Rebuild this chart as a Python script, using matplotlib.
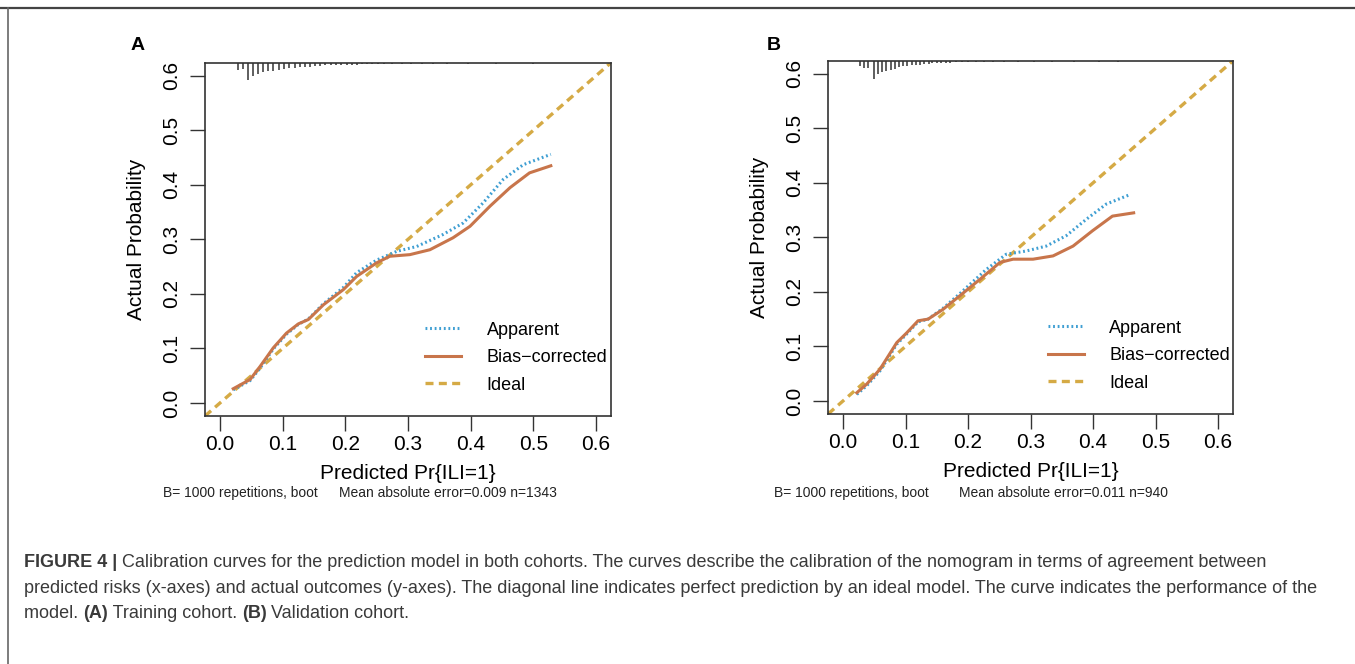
import matplotlib
matplotlib.use("Agg")
import matplotlib.pyplot as plt
from matplotlib.lines import Line2D

plt.rcParams['font.family'] = ['Liberation Sans', 'DejaVu Sans']

# panel A: training cohort
a_x = [0.021, 0.048, 0.064, 0.085, 0.106, 0.125, 0.141, 0.165, 0.197, 0.218, 0.250, 0.271,
       0.303, 0.335, 0.372, 0.399, 0.431, 0.463, 0.494, 0.528]
a_bias = [0.026, 0.043, 0.067, 0.101, 0.128, 0.145, 0.153, 0.180, 0.208, 0.232, 0.257, 0.269,
          0.272, 0.281, 0.303, 0.324, 0.361, 0.395, 0.422, 0.435]
a_app_x = [0.021, 0.048, 0.064, 0.085, 0.106, 0.125, 0.141, 0.165, 0.197, 0.218, 0.250, 0.282,
           0.314, 0.356, 0.388, 0.420, 0.452, 0.484, 0.528]
a_app = [0.024, 0.041, 0.064, 0.099, 0.126, 0.144, 0.154, 0.182, 0.212, 0.239, 0.262, 0.278,
         0.287, 0.309, 0.330, 0.367, 0.410, 0.437, 0.456]
a_rug_x = [0.028, 0.036, 0.045, 0.053, 0.061, 0.069, 0.077, 0.085, 0.094, 0.102, 0.110, 0.119,
           0.127, 0.135, 0.143, 0.152, 0.160, 0.168, 0.177, 0.185, 0.193, 0.202, 0.210, 0.218,
           0.226, 0.235, 0.243, 0.252, 0.262, 0.275, 0.290, 0.305, 0.322, 0.340, 0.362, 0.395,
           0.440, 0.500]
a_rug_h = [0.013, 0.012, 0.031, 0.025, 0.021, 0.017, 0.016, 0.015, 0.014, 0.011, 0.010, 0.009,
           0.008, 0.007, 0.007, 0.006, 0.006, 0.005, 0.005, 0.005, 0.004, 0.004, 0.004, 0.004,
           0.003, 0.003, 0.003, 0.003, 0.003, 0.002, 0.002, 0.002, 0.002, 0.002, 0.003, 0.002,
           0.002, 0.002]

# panel B: validation cohort
b_x = [0.022, 0.038, 0.059, 0.086, 0.102, 0.120, 0.136, 0.160, 0.187, 0.219, 0.251, 0.272,
       0.304, 0.336, 0.368, 0.399, 0.431, 0.465]
b_bias = [0.015, 0.031, 0.058, 0.107, 0.125, 0.147, 0.150, 0.168, 0.193, 0.223, 0.254, 0.260,
          0.260, 0.266, 0.284, 0.312, 0.339, 0.345]
b_app_x = [0.022, 0.038, 0.059, 0.086, 0.102, 0.120, 0.136, 0.160, 0.187, 0.229, 0.261, 0.293,
           0.325, 0.357, 0.389, 0.421, 0.458]
b_app = [0.012, 0.028, 0.055, 0.104, 0.123, 0.145, 0.150, 0.170, 0.197, 0.241, 0.269, 0.275,
         0.284, 0.303, 0.333, 0.361, 0.378]
b_rug_x = [0.027, 0.034, 0.040, 0.049, 0.056, 0.063, 0.069, 0.076, 0.083, 0.089, 0.096, 0.103,
           0.110, 0.116, 0.123, 0.130, 0.137, 0.143, 0.150, 0.157, 0.164, 0.171, 0.180, 0.190,
           0.200, 0.212, 0.225, 0.240, 0.258, 0.280, 0.305, 0.335, 0.370, 0.410, 0.440]
b_rug_h = [0.010, 0.013, 0.014, 0.033, 0.024, 0.020, 0.018, 0.017, 0.015, 0.012, 0.010, 0.009,
           0.008, 0.007, 0.007, 0.006, 0.006, 0.005, 0.005, 0.004, 0.004, 0.004, 0.003, 0.003,
           0.003, 0.003, 0.003, 0.002, 0.002, 0.002, 0.002, 0.002, 0.002, 0.002, 0.002]

ticks = [0.0, 0.1, 0.2, 0.3, 0.4, 0.5, 0.6]
tick_labels = ["0.0", "0.1", "0.2", "0.3", "0.4", "0.5", "0.6"]
legend_labels = ["Apparent", "Bias\u2212corrected", "Ideal"]

c_app = "#3f9fd3"
c_bias = "#c8754b"
c_ideal = "#d5aa45"

fig = plt.figure(figsize=(13.55, 6.64), dpi=100)

panels = [
    dict(rect=[0.1513, 0.3735, 0.2996, 0.532], x=a_x, bias=a_bias, app_x=a_app_x, app=a_app,
         rug_x=a_rug_x, rug_h=a_rug_h, letter="A", letter_x=0.096,
         sub1="B= 1000 repetitions, boot", sub2="Mean absolute error=0.009 n=1343",
         sub1_x=0.120, sub2_x=0.250),
    dict(rect=[0.6111, 0.3765, 0.2989, 0.532], x=b_x, bias=b_bias, app_x=b_app_x, app=b_app,
         rug_x=b_rug_x, rug_h=b_rug_h, letter="B", letter_x=0.566,
         sub1="B= 1000 repetitions, boot", sub2="Mean absolute error=0.011 n=940",
         sub1_x=0.571, sub2_x=0.708),
]

for p in panels:
    ax = fig.add_axes(p["rect"])
    ax.set_xlim(-0.024, 0.624)
    ax.set_ylim(-0.024, 0.624)
    ax.axline((0, 0), slope=1, color=c_ideal, lw=2.4, ls=(0, (2.4, 1.6)))
    ax.plot(p["app_x"], p["app"], color=c_app, lw=2.2, ls=(0, (0.6, 0.9)))
    ax.plot(p["x"], p["bias"], color=c_bias, lw=2.2)
    # frequency rug hanging from the top border
    top = ax.get_ylim()[1]
    ax.vlines(p["rug_x"], [top - h for h in p["rug_h"]], top, color="#333333", lw=1.1)

    ax.set_xticks(ticks)
    ax.set_xticklabels(tick_labels)
    ax.set_yticks(ticks)
    ax.set_yticklabels(tick_labels, rotation=90, va="center")
    ax.tick_params(axis="both", direction="out", length=11, width=1.0, labelsize=15,
                   color="#333333", pad=6)
    ax.tick_params(axis="x", pad=3)
    for s in ax.spines.values():
        s.set_color("#333333")
        s.set_linewidth(1.2)
    ax.set_xlabel("Predicted Pr{ILI=1}", fontsize=15, labelpad=7)
    ax.set_ylabel("Actual Probability", fontsize=15, labelpad=12)

    handles = [Line2D([], [], color=c_app, lw=2.2, ls=(0, (0.6, 0.9))),
               Line2D([], [], color=c_bias, lw=2.2),
               Line2D([], [], color=c_ideal, lw=2.4, ls=(0, (2.4, 1.6)))]
    ax.legend(handles, legend_labels, loc="center left", bbox_to_anchor=(0.52, 0.165),
              frameon=False, fontsize=13, handlelength=2.0, handletextpad=1.4,
              labelspacing=0.58, borderpad=0)

    fig.text(p["letter_x"], 0.932, p["letter"], fontsize=14, fontweight="bold", va="center")
    fig.text(p["sub1_x"], 0.257, p["sub1"], fontsize=10, va="center", color="#222222")
    fig.text(p["sub2_x"], 0.257, p["sub2"], fontsize=10, va="center", color="#222222")

# frame lines of the figure box
fig.add_artist(Line2D([0.0, 1.0], [0.988, 0.988], color="#444444", lw=1.6))
fig.add_artist(Line2D([0.0059, 0.0059], [0.0, 0.988], color="#666666", lw=1.2))

# caption
cap_col = "#3a3a3a"
cap_fs = 13
t = fig.text(0.0175, 0.146, "FIGURE 4 |", fontsize=cap_fs, fontweight="bold", color=cap_col)
plt.annotate(" Calibration curves for the prediction model in both cohorts. The curves describe "
             "the calibration of the nomogram in terms of agreement between",
             xy=(1, 0), xycoords=t, va="bottom", fontsize=cap_fs, color=cap_col)
fig.text(0.0175, 0.107, "predicted risks (x-axes) and actual outcomes (y-axes). The diagonal line "
         "indicates perfect prediction by an ideal model. The curve indicates the performance of the",
         fontsize=cap_fs, color=cap_col)
m = fig.text(0.0175, 0.069, "model. ", fontsize=cap_fs, color=cap_col)
r1 = plt.annotate("(A)", xy=(1, 0), xycoords=m, va="bottom", fontsize=cap_fs,
                  fontweight="bold", color=cap_col)
r2 = plt.annotate(" Training cohort. ", xy=(1, 0), xycoords=r1, va="bottom", fontsize=cap_fs,
                  color=cap_col)
r3 = plt.annotate("(B)", xy=(1, 0), xycoords=r2, va="bottom", fontsize=cap_fs,
                  fontweight="bold", color=cap_col)
plt.annotate(" Validation cohort.", xy=(1, 0), xycoords=r3, va="bottom", fontsize=cap_fs,
             color=cap_col)

fig.savefig("out.png", dpi=100)
